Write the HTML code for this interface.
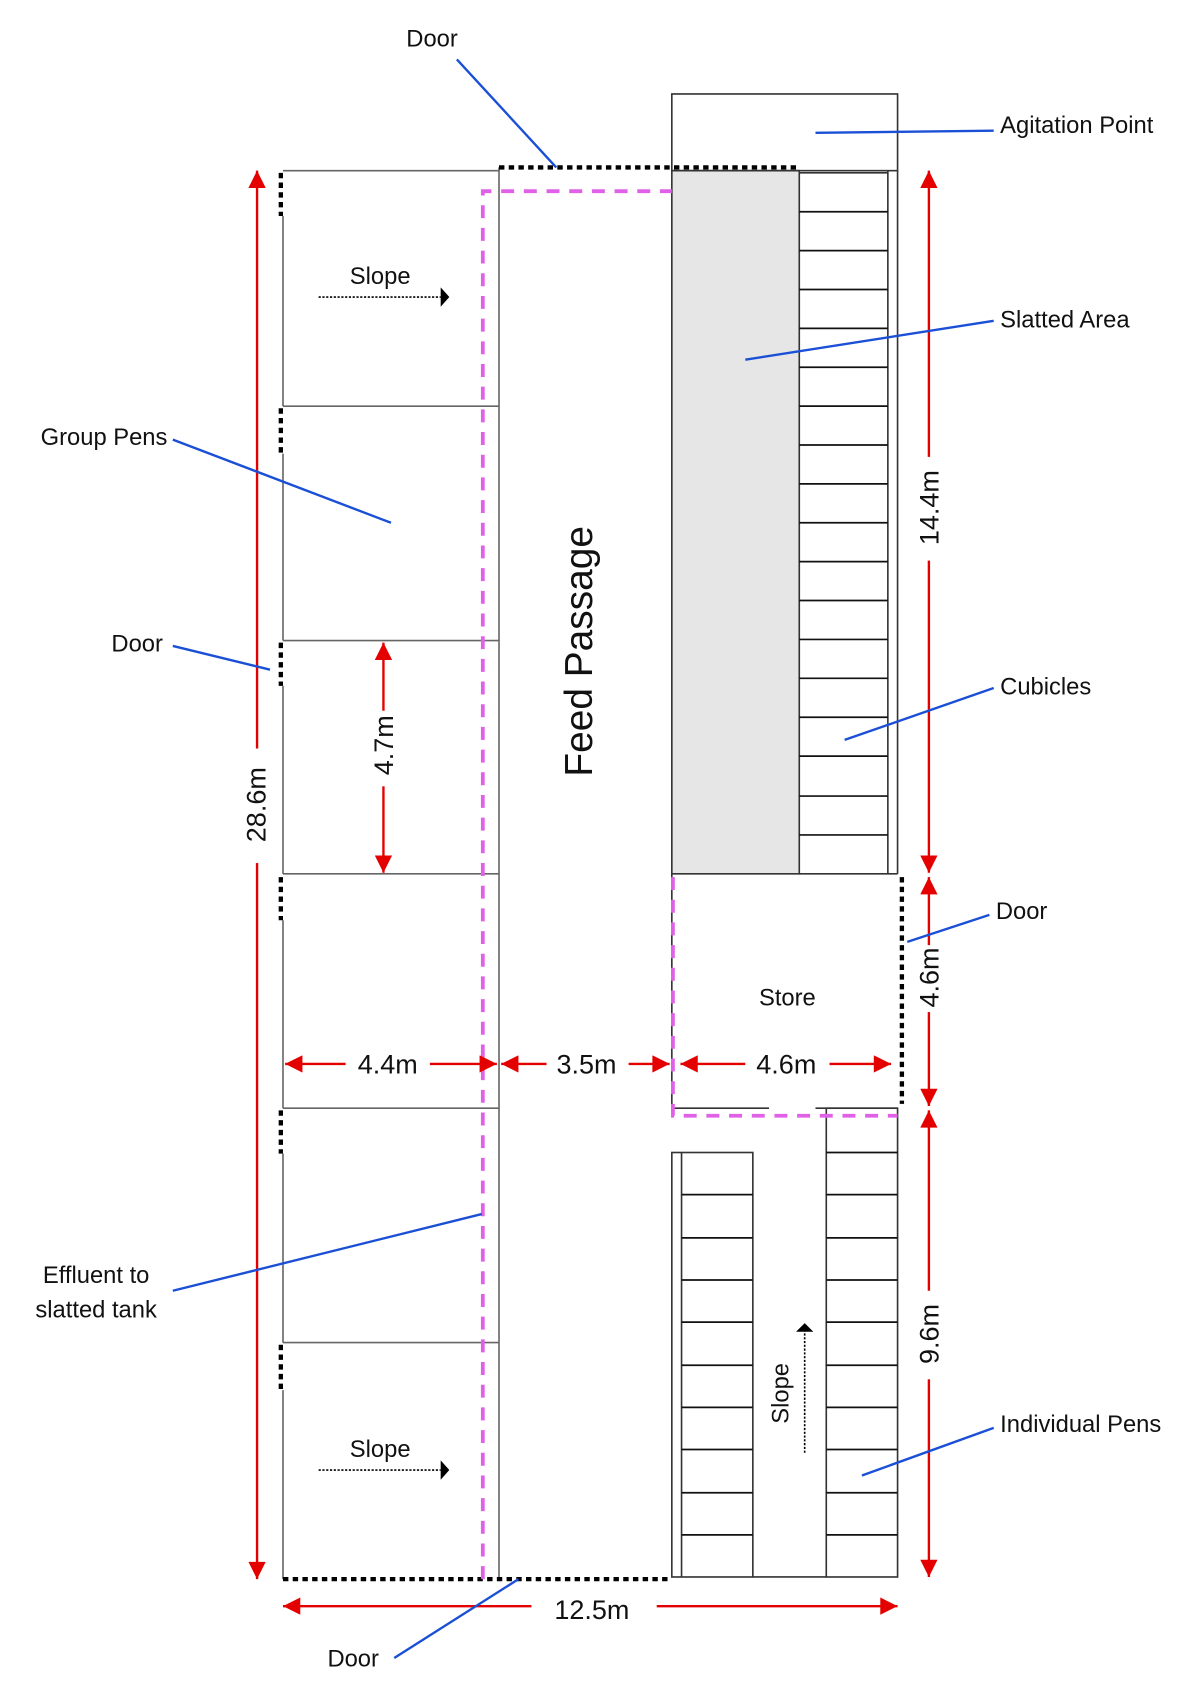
<!DOCTYPE html>
<html><head><meta charset="utf-8"><style>
html,body{margin:0;padding:0;background:#fff}
svg{display:block}
text{font-family:"Liberation Sans",sans-serif;fill:#111}
</style></head><body>
<svg width="1200" height="1685" viewBox="0 0 1111 1560" preserveAspectRatio="none" xmlns="http://www.w3.org/2000/svg">
<defs>
<marker id="ra" viewBox="0 0 10 10" refX="10" refY="5" markerWidth="18" markerHeight="16" orient="auto-start-reverse" markerUnits="userSpaceOnUse"><path d="M0,0L10,5L0,10z" fill="#e50000"/></marker>
</defs>
<g stroke="#666" stroke-width="1.5" fill="none">
<line x1="262" y1="158" x2="462" y2="158"/>
<line x1="462" y1="155" x2="462" y2="1462"/>
<line x1="262" y1="376" x2="462" y2="376"/>
<line x1="262" y1="593" x2="462" y2="593"/>
<line x1="262" y1="809" x2="462" y2="809"/>
<line x1="262" y1="1026" x2="462" y2="1026"/>
<line x1="262" y1="1243" x2="462" y2="1243"/>
<line x1="262" y1="200" x2="262" y2="376"/>
<line x1="262" y1="420" x2="262" y2="593"/>
<line x1="262" y1="635" x2="262" y2="809"/>
<line x1="262" y1="852" x2="262" y2="1026"/>
<line x1="262" y1="1068" x2="262" y2="1243"/>
<line x1="262" y1="1287" x2="262" y2="1462"/>
</g>
<g stroke="#000" stroke-width="4" stroke-dasharray="5,4">
<line x1="260" y1="160" x2="260" y2="200"/>
<line x1="260" y1="378" x2="260" y2="420"/>
<line x1="260" y1="595" x2="260" y2="635"/>
<line x1="260" y1="812" x2="260" y2="852"/>
<line x1="260" y1="1028" x2="260" y2="1068"/>
<line x1="260" y1="1245" x2="260" y2="1287"/>
<line x1="462" y1="155" x2="740" y2="155"/>
<line x1="262" y1="1462" x2="618" y2="1462"/>
<line x1="835" y1="812" x2="835" y2="1022"/>
</g>
<rect x="622" y="158" width="118" height="651" fill="#e6e6e6" stroke="#333" stroke-width="1.5"/>
<g stroke="#333" stroke-width="1.5" fill="none">
<rect x="622" y="87" width="209" height="71"/>
<line x1="831" y1="158" x2="831" y2="809"/>
<line x1="822" y1="158" x2="822" y2="809"/>
<line x1="740" y1="160" x2="822" y2="160"/>
<line x1="740" y1="809" x2="831" y2="809"/>
<line x1="622" y1="809" x2="622" y2="1026"/>
<line x1="622" y1="1026" x2="712" y2="1026"/>
<line x1="755" y1="1026" x2="831" y2="1026"/>
<rect x="622" y="1067" width="75" height="393"/>
<line x1="631" y1="1067" x2="631" y2="1460"/>
<rect x="765" y="1026" width="66" height="434"/>
<line x1="697" y1="1460" x2="765" y2="1460"/>
</g>
<g stroke="#111" stroke-width="1.6">
<line x1="740" y1="196" x2="822" y2="196"/><line x1="740" y1="232" x2="822" y2="232"/><line x1="740" y1="268" x2="822" y2="268"/><line x1="740" y1="304" x2="822" y2="304"/><line x1="740" y1="340" x2="822" y2="340"/><line x1="740" y1="376" x2="822" y2="376"/><line x1="740" y1="412" x2="822" y2="412"/><line x1="740" y1="448" x2="822" y2="448"/><line x1="740" y1="484" x2="822" y2="484"/><line x1="740" y1="520" x2="822" y2="520"/><line x1="740" y1="556" x2="822" y2="556"/><line x1="740" y1="592" x2="822" y2="592"/><line x1="740" y1="628" x2="822" y2="628"/><line x1="740" y1="664" x2="822" y2="664"/><line x1="740" y1="700" x2="822" y2="700"/><line x1="740" y1="737" x2="822" y2="737"/><line x1="740" y1="773" x2="822" y2="773"/>
<line x1="631" y1="1106" x2="697" y2="1106"/><line x1="631" y1="1146" x2="697" y2="1146"/><line x1="631" y1="1185" x2="697" y2="1185"/><line x1="631" y1="1224" x2="697" y2="1224"/><line x1="631" y1="1264" x2="697" y2="1264"/><line x1="631" y1="1303" x2="697" y2="1303"/><line x1="631" y1="1342" x2="697" y2="1342"/><line x1="631" y1="1382" x2="697" y2="1382"/><line x1="631" y1="1421" x2="697" y2="1421"/>
<line x1="765" y1="1067" x2="831" y2="1067"/><line x1="765" y1="1106" x2="831" y2="1106"/><line x1="765" y1="1146" x2="831" y2="1146"/><line x1="765" y1="1185" x2="831" y2="1185"/><line x1="765" y1="1224" x2="831" y2="1224"/><line x1="765" y1="1264" x2="831" y2="1264"/><line x1="765" y1="1303" x2="831" y2="1303"/><line x1="765" y1="1342" x2="831" y2="1342"/><line x1="765" y1="1382" x2="831" y2="1382"/><line x1="765" y1="1421" x2="831" y2="1421"/>
</g>
<g stroke="#e060e8" stroke-width="3.5" stroke-dasharray="12,9" fill="none">
<polyline points="447,1462 447,177 622,177"/>
<polyline points="623,812 623,1033 831,1033"/>
</g>
<g stroke="#000" stroke-width="1.5" stroke-dasharray="2,1.5">
<line x1="295" y1="275" x2="408" y2="275"/>
<line x1="295" y1="1361" x2="408" y2="1361"/>
<line x1="745" y1="1345" x2="745" y2="1232"/>
</g>
<path d="M408,266L416,275L408,284z"/><path d="M408,1352L416,1361L408,1370z"/><path d="M737,1233L745,1225L753,1233z"/>
<g stroke="#e50000" stroke-width="2.2" marker-end="url(#ra)" marker-start="url(#ra)" fill="none">
<line x1="238" y1="158" x2="238" y2="1462"/>
<line x1="355" y1="595" x2="355" y2="808"/>
<line x1="860" y1="158" x2="860" y2="808"/>
<line x1="860" y1="812" x2="860" y2="1024"/>
<line x1="860" y1="1028" x2="860" y2="1460"/>
<line x1="264" y1="985" x2="460" y2="985"/>
<line x1="464" y1="985" x2="620" y2="985"/>
<line x1="630" y1="985" x2="825" y2="985"/>
<line x1="262" y1="1487" x2="831" y2="1487"/>
</g>
<g fill="#fff">
<rect x="225" y="693" width="26" height="106"/>
<rect x="342" y="658" width="26" height="70"/>
<rect x="847" y="423" width="26" height="96"/>
<rect x="847" y="875" width="26" height="62"/>
<rect x="847" y="1195" width="26" height="82"/>
<rect x="320" y="968" width="78" height="34"/>
<rect x="506" y="968" width="76" height="34"/>
<rect x="690" y="968" width="78" height="34"/>
<rect x="492" y="1470" width="116" height="34"/>
</g>
<g font-size="25" text-anchor="middle">
<text transform="translate(246,745) rotate(-90)">28.6m</text>
<text transform="translate(364,690) rotate(-90)">4.7m</text>
<text transform="translate(869,470) rotate(-90)">14.4m</text>
<text transform="translate(869,905) rotate(-90)">4.6m</text>
<text transform="translate(869,1235) rotate(-90)">9.6m</text>
<text x="359" y="994">4.4m</text>
<text x="543" y="994">3.5m</text>
<text x="728" y="994">4.6m</text>
<text x="548" y="1499">12.5m</text>
</g>
<g stroke="#1a4fd6" stroke-width="2.2">
<line x1="423" y1="55" x2="515" y2="155"/>
<line x1="755" y1="123" x2="920" y2="121"/>
<line x1="690" y1="333" x2="920" y2="297"/>
<line x1="160" y1="407" x2="362" y2="484"/>
<line x1="160" y1="598" x2="250" y2="620"/>
<line x1="782" y1="685" x2="920" y2="637"/>
<line x1="840" y1="872" x2="916" y2="847"/>
<line x1="160" y1="1195" x2="446" y2="1124"/>
<line x1="798" y1="1366" x2="920" y2="1322"/>
<line x1="365" y1="1535" x2="480" y2="1462"/>
</g>
<g font-size="22">
<text x="400" y="43" text-anchor="middle">Door</text>
<text x="926" y="123">Agitation Point</text>
<text x="926" y="303">Slatted Area</text>
<text x="155" y="412" text-anchor="end">Group Pens</text>
<text x="127" y="603" text-anchor="middle">Door</text>
<text x="926" y="643">Cubicles</text>
<text x="922" y="851">Door</text>
<text x="89" y="1188" text-anchor="middle">Effluent to</text>
<text x="89" y="1220" text-anchor="middle">slatted tank</text>
<text x="926" y="1326">Individual Pens</text>
<text x="327" y="1543" text-anchor="middle">Door</text>
<text x="352" y="263" text-anchor="middle">Slope</text>
<text x="352" y="1349" text-anchor="middle">Slope</text>
<text transform="translate(730,1290) rotate(-90)" text-anchor="middle">Slope</text>
<text x="729" y="931" text-anchor="middle">Store</text>
</g>
<text transform="translate(548,603) rotate(-90)" text-anchor="middle" font-size="36">Feed Passage</text>
</svg>
</body></html>
